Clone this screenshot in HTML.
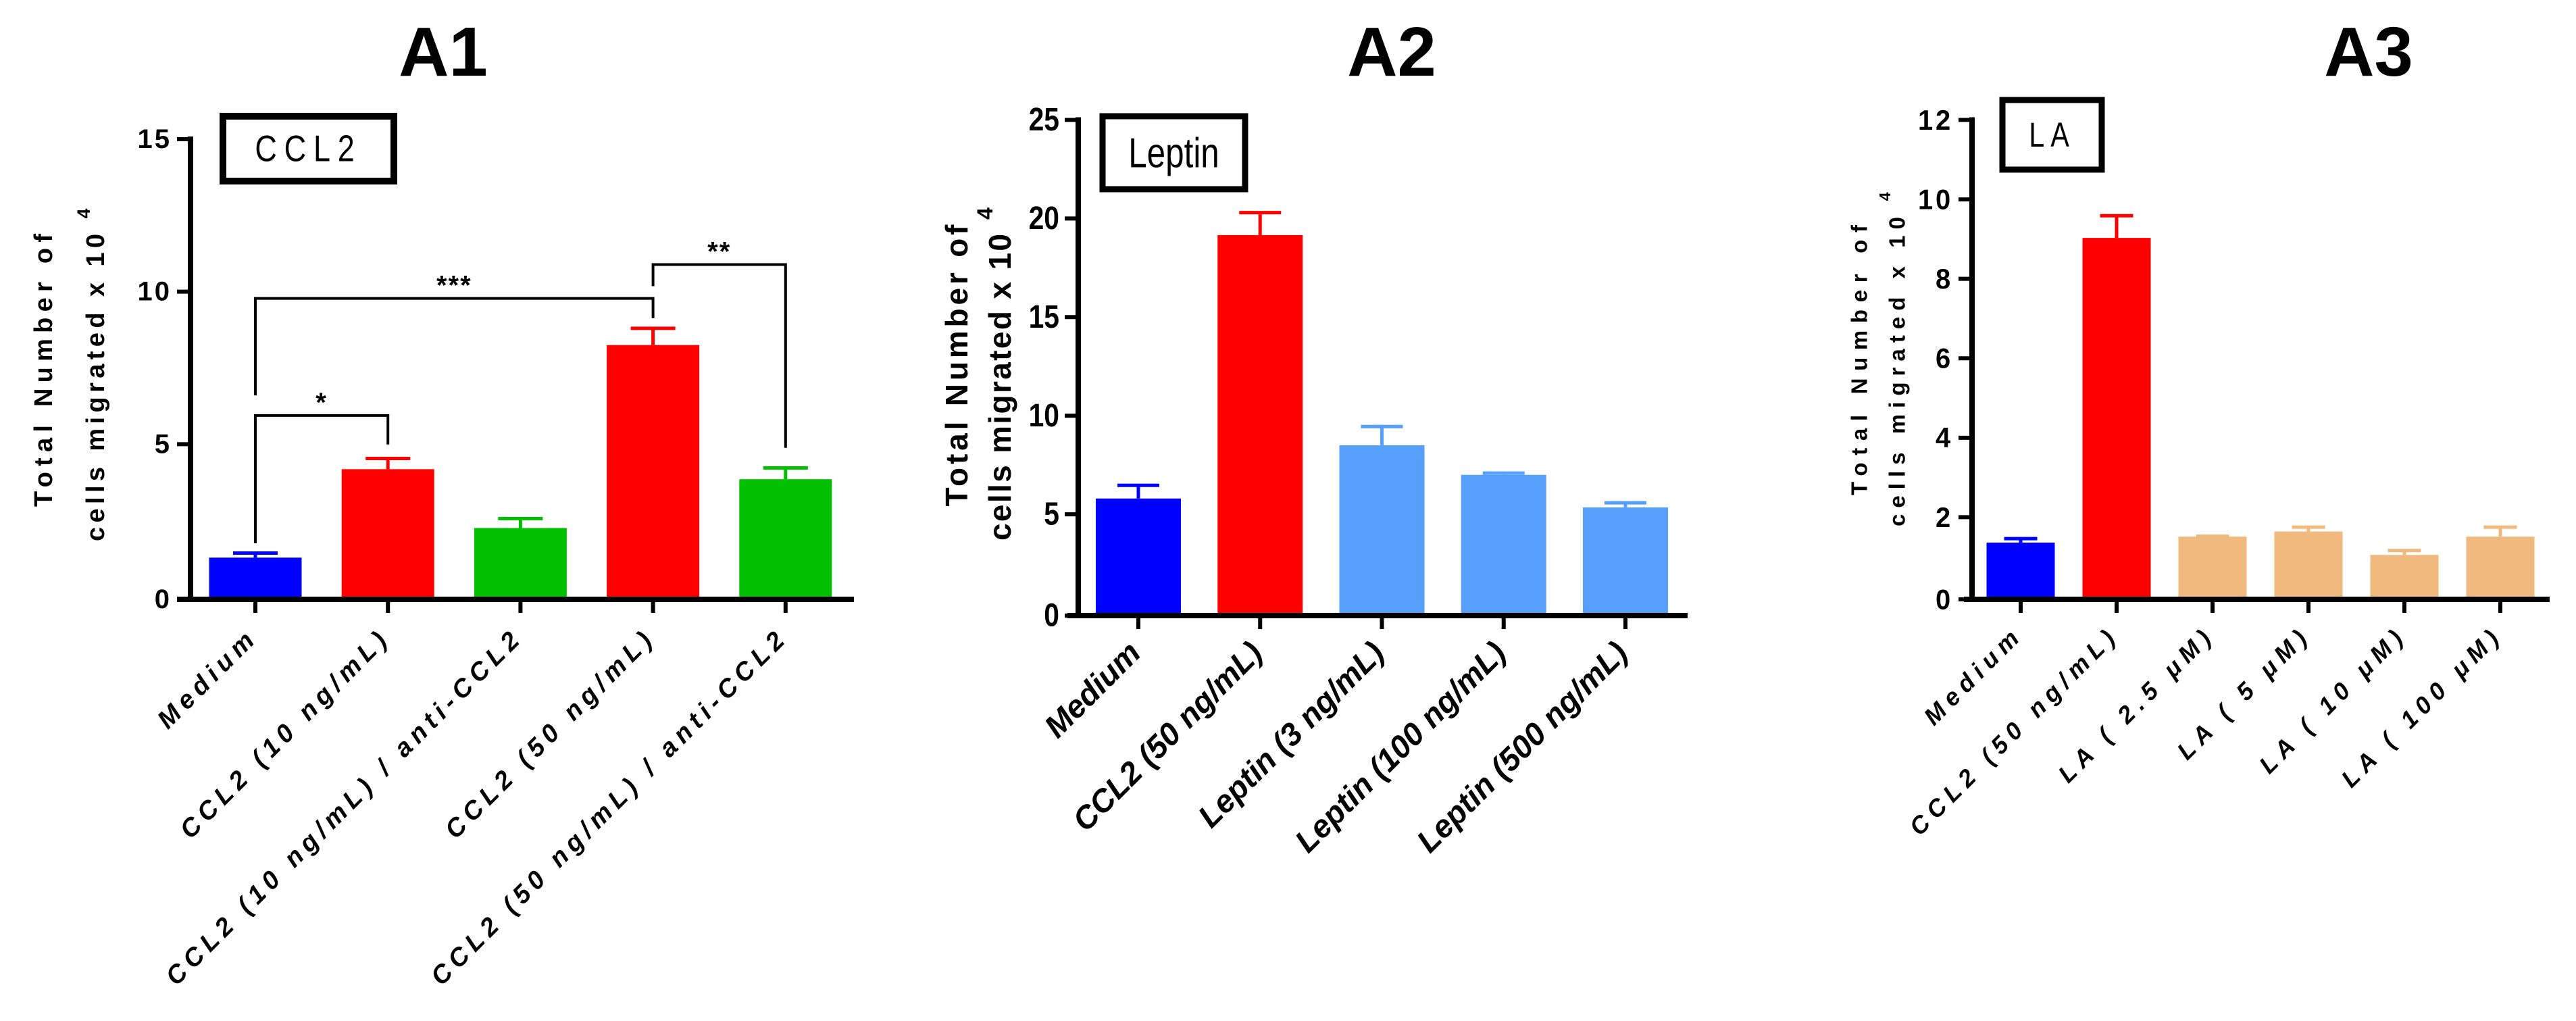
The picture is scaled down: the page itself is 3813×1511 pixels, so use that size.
<!DOCTYPE html>
<html><head><meta charset="utf-8"><style>
html,body{margin:0;padding:0;background:#fff;}
svg{display:block;font-family:"Liberation Sans",Arial,sans-serif;}
</style></head><body>
<svg id="fig" width="3813" height="1511" viewBox="0 0 3813 1511" xmlns="http://www.w3.org/2000/svg"></svg>
<script>
// ---- data ----
const a1Categories = ["Medium","CCL2 (10 ng/mL)","CCL2 (10 ng/mL) / anti-CCL2","CCL2 (50 ng/mL)","CCL2 (50 ng/mL) / anti-CCL2"];
const a1Values = [1.28, 4.18, 2.25, 8.25, 3.85];
const a1Errors = [1.43, 4.53, 2.56, 8.8, 4.22];
const a1Colors = ["#0000ff","#ff0000","#00c000","#ff0000","#00c000"];
const a1Ticks = [0,5,10,15];
const a1SigFrom = [0,0,3];
const a1SigTo = [1,3,4];
const a1SigLevel = [5.94,9.78,10.89];
const a1SigLeftEnd = [1.75,6.6,10.18];
const a1SigRightEnd = [4.99,9.13,4.88];
const a1SigLabel = ["*","***","**"];

const a2Categories = ["Medium","CCL2 (50 ng/mL)","Leptin (3 ng/mL)","Leptin (100 ng/mL)","Leptin (500 ng/mL)"];
const a2Values = [5.8, 19.16, 8.5, 7.0, 5.35];
const a2Errors = [6.47, 20.3, 9.45, 7.09, 5.58];
const a2Colors = ["#0000ff","#ff0000","#56a0fc","#56a0fc","#56a0fc"];
const a2Ticks = [0,5,10,15,20,25];

const a3Categories = ["Medium","CCL2 (50 ng/mL)","LA ( 2.5 \u03bcM)","LA ( 5 \u03bcM)","LA ( 10 \u03bcM)","LA ( 100 \u03bcM)"];
const a3Values = [1.36, 9.03, 1.51, 1.64, 1.05, 1.51];
const a3Errors = [1.46, 9.59, 1.52, 1.75, 1.16, 1.75];
const a3Colors = ["#0000ff","#ff0000","#f0b97e","#f0b97e","#f0b97e","#f0b97e"];
const a3Ticks = [0,2,4,6,8,10,12];

const NS = "http://www.w3.org/2000/svg";
const svg = document.getElementById('fig');
function mk(tag, attrs, parent, txt){
  const e = document.createElementNS(NS, tag);
  for (const k in attrs) e.setAttribute(k, attrs[k]);
  if (txt !== undefined) e.textContent = txt;
  (parent||svg).appendChild(e);
  return e;
}

function panel(cfg){
  const g = mk('g', {});
  
  
  const yScale = v => cfg.y0 - (v / cfg.yMax) * (cfg.y0 - cfg.yTop);
  const xScale = i => cfg.x0c + i * cfg.step;

  const t = mk('text', {x: cfg.titleX, y: 112, 'text-anchor':'middle', 'font-size':103, 'font-weight':'bold'}, g, cfg.id.toUpperCase());
  
  

  const bx = cfg.box;
  const lb = mk('rect', {x:bx[0], y:bx[1], width:bx[2], height:bx[3], fill:'none', stroke:'#000', 'stroke-width':cfg.boxStroke}, g);
  
  
  const cxb = bx[0]+bx[2]/2, cyb = bx[1]+bx[3]/2;
  const lt = mk('text', {x: 0, y: 0, 'text-anchor':'middle', 'dominant-baseline':'central', 'font-size':cfg.boxFont, 'letter-spacing':cfg.boxLs, transform:`translate(${cxb} ${cyb}) scale(${cfg.boxSx} ${cfg.boxSy})`}, g, cfg.boxText);
  
  

  cfg.values.forEach((v,i) => {
    const cx = xScale(i);
    const top = yScale(v);
    const r = mk('rect', {x: cx - cfg.barW/2, y: top, width: cfg.barW, height: cfg.y0 - top, fill: cfg.colors[i]}, g);
    
    
    const et = yScale(cfg.errors[i]);
    const eg = mk('g', {stroke: cfg.colors[i], fill:'none'}, g);
    
    
    mk('line', {x1:cx, x2:cx, y1:top, y2:et, 'stroke-width':5}, eg);
    mk('line', {x1:cx-cfg.capW/2, x2:cx+cfg.capW/2, y1:et, y2:et, 'stroke-width':5}, eg);
  });

  const ya = mk('line', {x1:cfg.xAxis, x2:cfg.xAxis, y1:cfg.yTop-4, y2:cfg.y0+4, stroke:'#000', 'stroke-width':8}, g);
  
  
  const xa = mk('line', {x1:cfg.xStart, x2:cfg.xEnd, y1:cfg.y0+4, y2:cfg.y0+4, stroke:'#000', 'stroke-width':8}, g);
  
  

  cfg.ticks.forEach(tv => {
    const y = tv === 0 ? cfg.y0 + 4 : yScale(tv);
    mk('line', {x1:cfg.xAxis-20, x2:cfg.xAxis, y1:y, y2:y, stroke:'#000', 'stroke-width':6}, g);
    const tx = cfg.xAxis-28;
    const tl = mk('text', {x: 0, y: 0, 'text-anchor':'end', 'dominant-baseline':'central', 'font-size':cfg.tickFont, 'font-weight':'bold', 'letter-spacing':cfg.tickLs, transform:`translate(${tx} ${y}) scale(${cfg.tickSx} 1)`}, g, String(tv));
    
    
  });

  cfg.categories.forEach((c,i) => {
    const cx = xScale(i);
    mk('line', {x1:cx, x2:cx, y1:cfg.y0+4, y2:cfg.y0+24, stroke:'#000', 'stroke-width':6}, g);
    const lx = cx + 6, ly = cfg.y0 + cfg.labelDy;
    const xl = mk('text', {x: lx, y: ly, 'text-anchor':'end', 'font-size':cfg.labelFont, 'font-weight':'bold', 'font-style':'italic', 'letter-spacing':cfg.labelLs, transform:`rotate(-45 ${lx} ${ly})`}, g, c);
    
    
  });

  const yt = cfg.yTitle;
  const l1 = mk('text', {x: yt.x1, y: yt.c, 'text-anchor':'middle', 'dominant-baseline':'central', 'font-size':yt.font, 'font-weight':'bold', textLength: yt.len1, lengthAdjust:'spacing', transform:`rotate(-90 ${yt.x1} ${yt.c})`}, g, 'Total Number of');
  
  
  const c2 = yt.bottom2 - yt.len2/2;
  const l2 = mk('text', {x: yt.x2, y: c2, 'text-anchor':'middle', 'dominant-baseline':'central', 'font-size':yt.font, 'font-weight':'bold', textLength: yt.len2, lengthAdjust:'spacing', transform:`rotate(-90 ${yt.x2} ${c2})`}, g, 'cells migrated x 10');
  
  
  const sy = yt.bottom2 - yt.len2 - 30;
  const sp = mk('text', {x: yt.supX, y: sy, 'text-anchor':'middle', 'dominant-baseline':'central', 'font-size':yt.font*0.7, 'font-weight':'bold', transform:`rotate(-90 ${yt.supX} ${sy})`}, g, '4');
  
  

  return {g, xScale, yScale};
}

const p1 = panel({
  id:'a1', categories:a1Categories, values:a1Values, errors:a1Errors, colors:a1Colors, ticks:a1Ticks,
  yMax:15, y0:883, yTop:206, x0c:378, step:196.2, barW:137, capW:66,
  xAxis:282, xStart:262, xEnd:1264, titleX:656,
  box:[330,172,253,96], boxStroke:10, boxText:'CCL2', boxFont:50, boxLs:12, boxSx:0.9, boxSy:1.1,
  tickFont:40, tickLs:3, tickSx:1, labelFont:38, labelLs:8, labelDy:62,
  yTitle:{x1:65, x2:142, c:548, font:38, len1:404, len2:455, bottom2:801, supX:124}
});
const p2 = panel({
  id:'a2', categories:a2Categories, values:a2Values, errors:a2Errors, colors:a2Colors, ticks:a2Ticks,
  yMax:25, y0:907, yTop:177.5, x0c:1685, step:180.25, barW:126, capW:62,
  xAxis:1596, xStart:1580, xEnd:2498, titleX:2060,
  box:[1632,172,211,108], boxStroke:9, boxText:'Leptin', boxFont:52, boxLs:0, boxSx:0.95, boxSy:1.2,
  tickFont:48, tickLs:0, tickSx:0.85, labelFont:47, labelLs:0, labelDy:62,
  yTitle:{x1:1416, x2:1480, c:541, font:46, len1:417, len2:454, bottom2:800, supX:1458}
});
const p3 = panel({
  id:'a3', categories:a3Categories, values:a3Values, errors:a3Errors, colors:a3Colors, ticks:a3Ticks,
  yMax:12, y0:883, yTop:177.5, x0c:2991, step:142, barW:101, capW:49,
  xAxis:2919, xStart:2907, xEnd:3774, titleX:3506,
  box:[2964,148,147,103], boxStroke:9, boxText:'LA', boxFont:46, boxLs:10, boxSx:0.9, boxSy:1.1,
  tickFont:42, tickLs:4, tickSx:0.95, labelFont:36, labelLs:9, labelDy:58,
  yTitle:{x1:2752, x2:2808, c:533, font:33, len1:400, len2:458, bottom2:779, supX:2790}
});

a1SigFrom.forEach((f,k) => {
  const xa = p1.xScale(f), xb = p1.xScale(a1SigTo[k]);
  const yl = p1.yScale(a1SigLevel[k]);
  const br = mk('polyline', {points:`${xa},${p1.yScale(a1SigLeftEnd[k])} ${xa},${yl} ${xb},${yl} ${xb},${p1.yScale(a1SigRightEnd[k])}`, fill:'none', stroke:'#000', 'stroke-width':4}, p1.g);
  
  
  const st = mk('text', {x:(xa+xb)/2, y:yl-6, 'text-anchor':'middle', 'font-size':40, 'font-weight':'bold', 'letter-spacing':2}, p1.g, a1SigLabel[k]);
  
  
});
</script>
</body></html>
